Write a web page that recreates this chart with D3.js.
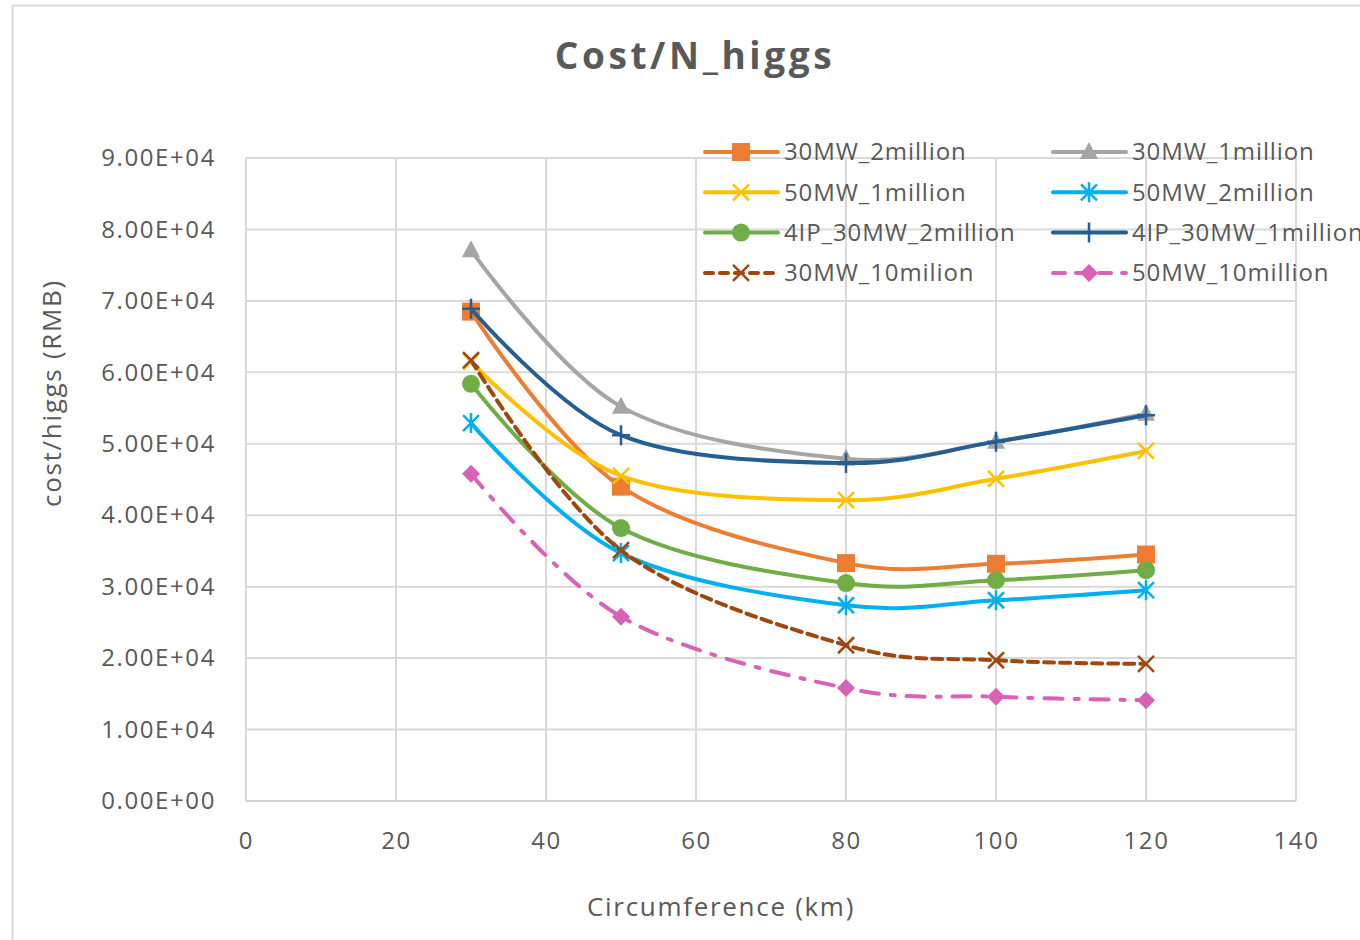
<!DOCTYPE html>
<html>
<head>
<meta charset="utf-8">
<script src="https://cdn.jsdelivr.net/npm/d3@7"></script>
<style>
  body { margin: 0; background: #fff; overflow: hidden; }
  text { font-family: "Open Sans", "Noto Sans", sans-serif; fill: #595959; }
</style>
</head>
<body>
<div id="chart"></div>
<script>
var svgWidth = 1360;
var svgHeight = 940;

// data
var circumference = [30, 50, 80, 100, 120];
var seriesNames = ["30MW_2million", "30MW_1million", "50MW_1million", "50MW_2million",
  "4IP_30MW_2million", "4IP_30MW_1million", "30MW_10milion", "50MW_10million"];
var cost30MW2m   = [68500, 44000, 33300, 33200, 34500];
var cost30MW1m   = [77100, 55200, 47900, 50300, 54200];
var cost50MW1m   = [61500, 45500, 42100, 45100, 49000];
var cost50MW2m   = [52900, 34700, 27400, 28100, 29500];
var cost4IP2m    = [58400, 38200, 30500, 30900, 32300];
var cost4IP1m    = [68900, 51200, 47300, 50300, 54000];
var cost30MW10m  = [61700, 35100, 21800, 19700, 19200];
var cost50MW10m  = [45800, 25800, 15800, 14600, 14100];
var xTicks = [0, 20, 40, 60, 80, 100, 120, 140];
var yTicks = [0, 10000, 20000, 30000, 40000, 50000, 60000, 70000, 80000, 90000];

var seriesValues = [cost30MW2m, cost30MW1m, cost50MW1m, cost50MW2m, cost4IP2m, cost4IP1m, cost30MW10m, cost50MW10m];
var colors = ["#ED7D31", "#A5A5A5", "#FFC000", "#00B0F0", "#70AD47", "#255E91", "#9E480E", "#D962B8"];
var markers = ["square", "triangle", "x", "asterisk", "circle", "plus", "x", "diamond"];
var dashes = [null, null, null, null, null, null, "10,6", "18,12,4,12"];

var margin = { top: 158, left: 246, right: 64, bottom: 139 };
var width = svgWidth - margin.left - margin.right;
var height = svgHeight - margin.top - margin.bottom;

var svg = d3.select("#chart")
  .append("svg")
  .attr("width", svgWidth)
  .attr("height", svgHeight);

// chart frame
svg.append("rect")
  .attr("x", 12.5).attr("y", 5.5)
  .attr("width", 1400).attr("height", 1000)
  .attr("fill", "none")
  .attr("stroke", "#D9D9D9")
  .attr("stroke-width", 2);

var chartGroup = svg.append("g")
  .attr("transform", `translate(${margin.left}, ${margin.top})`);

var xScale = d3.scaleLinear().domain([0, 140]).range([0, width]);
var yScale = d3.scaleLinear().domain([0, 90000]).range([height, 0]);

// gridlines
chartGroup.selectAll(".hgrid")
  .data(yTicks)
  .enter()
  .append("line")
  .attr("x1", 0).attr("x2", width)
  .attr("y1", d => yScale(d)).attr("y2", d => yScale(d))
  .attr("stroke", "#D9D9D9")
  .attr("stroke-width", 2);

chartGroup.selectAll(".vgrid")
  .data(xTicks)
  .enter()
  .append("line")
  .attr("x1", d => xScale(d)).attr("x2", d => xScale(d))
  .attr("y1", 0).attr("y2", height)
  .attr("stroke", "#D9D9D9")
  .attr("stroke-width", 2);

// axes
var bottomAxis = d3.axisBottom(xScale).tickValues(xTicks).tickSize(0).tickPadding(31);
var leftAxis = d3.axisLeft(yScale).tickValues(yTicks).tickSize(0).tickPadding(30)
  .tickFormat(d => (d / 10000).toFixed(2) + "E+0" + (d === 0 ? "0" : "4"));

var xAxisG = chartGroup.append("g")
  .attr("transform", `translate(0, ${height})`)
  .call(bottomAxis);
var yAxisG = chartGroup.append("g").call(leftAxis);

[xAxisG, yAxisG].forEach(g => {
  g.select(".domain").remove();
  g.selectAll("text")
    .attr("font-size", 24)
    .attr("fill", "#595959")
    .attr("letter-spacing", 1.6)
    .style("font-family", "'Open Sans', sans-serif");
});

chartGroup.append("line")
  .attr("x1", 0).attr("x2", width)
  .attr("y1", height).attr("y2", height)
  .attr("stroke", "#D0D0D0")
  .attr("stroke-width", 2);

// lines
var line = d3.line()
  .x((d, i) => xScale(circumference[i]))
  .y(d => yScale(d))
  .curve(d3.curveCardinal.tension(0));

function drawMarker(g, type, color, x, y) {
  var s = 9;
  if (type === "square") {
    g.append("rect").attr("x", x - s).attr("y", y - s).attr("width", 2 * s).attr("height", 2 * s).attr("fill", color);
  } else if (type === "circle") {
    g.append("circle").attr("cx", x).attr("cy", y).attr("r", s).attr("fill", color);
  } else if (type === "triangle") {
    g.append("path").attr("d", `M${x},${y - s - 1}L${x + s},${y + s - 2}L${x - s},${y + s - 2}Z`).attr("fill", color);
  } else if (type === "diamond") {
    g.append("path").attr("d", `M${x},${y - s}L${x + s},${y}L${x},${y + s}L${x - s},${y}Z`).attr("fill", color);
  } else {
    var p = "";
    var a = 8;
    if (type === "x" || type === "asterisk") p += `M${x - a},${y - a}L${x + a},${y + a}M${x - a},${y + a}L${x + a},${y - a}`;
    if (type === "asterisk") p += `M${x},${y - a - 2}L${x},${y + a + 2}`;
    if (type === "plus") p += `M${x},${y - 10}L${x},${y + 10}M${x - 9},${y}L${x + 9},${y}`;
    g.append("path").attr("d", p).attr("fill", "none").attr("stroke", color).attr("stroke-width", 2.5);
  }
}

seriesValues.forEach((vals, k) => {
  var g = chartGroup.append("g");
  g.append("path")
    .datum(vals)
    .attr("d", line)
    .attr("fill", "none")
    .attr("stroke", colors[k])
    .attr("stroke-width", 4)
    .attr("stroke-linecap", "round")
    .attr("stroke-dasharray", dashes[k]);
  vals.forEach((v, i) => drawMarker(g, markers[k], colors[k], xScale(circumference[i]), yScale(v)));
});

// legend
var legend = svg.append("g");
seriesNames.forEach((name, k) => {
  var col = k % 2, row = Math.floor(k / 2);
  var lx = col === 0 ? 705 : 1053;
  var ly = 152 + row * 40.3;
  var lg = legend.append("g");
  lg.append("line")
    .attr("x1", lx).attr("x2", lx + 73)
    .attr("y1", ly).attr("y2", ly)
    .attr("stroke", colors[k])
    .attr("stroke-width", 4)
    .attr("stroke-linecap", "round")
    .attr("stroke-dasharray", dashes[k] ? (k === 6 ? "8,7" : "12,11") : null);
  drawMarker(lg, markers[k], colors[k], lx + 36, ly);
  lg.append("text")
    .attr("x", lx + 79).attr("y", ly)
    .attr("dy", "0.35em")
    .attr("font-size", 24)
    .attr("letter-spacing", 0.9)
    .text(name);
});

// titles
svg.append("text")
  .attr("x", 695).attr("y", 56)
  .attr("dy", "0.35em")
  .attr("text-anchor", "middle")
  .attr("font-size", 37)
  .attr("font-weight", "bold")
  .attr("letter-spacing", 3.6)
  .text("Cost/N_higgs");

svg.append("text")
  .attr("x", 721).attr("y", 907)
  .attr("dy", "0.35em")
  .attr("text-anchor", "middle")
  .attr("font-size", 26)
  .attr("letter-spacing", 1.7)
  .text("Circumference (km)");

svg.append("text")
  .attr("transform", "translate(52, 393) rotate(-90)")
  .attr("dy", "0.35em")
  .attr("text-anchor", "middle")
  .attr("font-size", 26)
  .attr("letter-spacing", 1.7)
  .text("cost/higgs (RMB)");
</script>
</body>
</html>
